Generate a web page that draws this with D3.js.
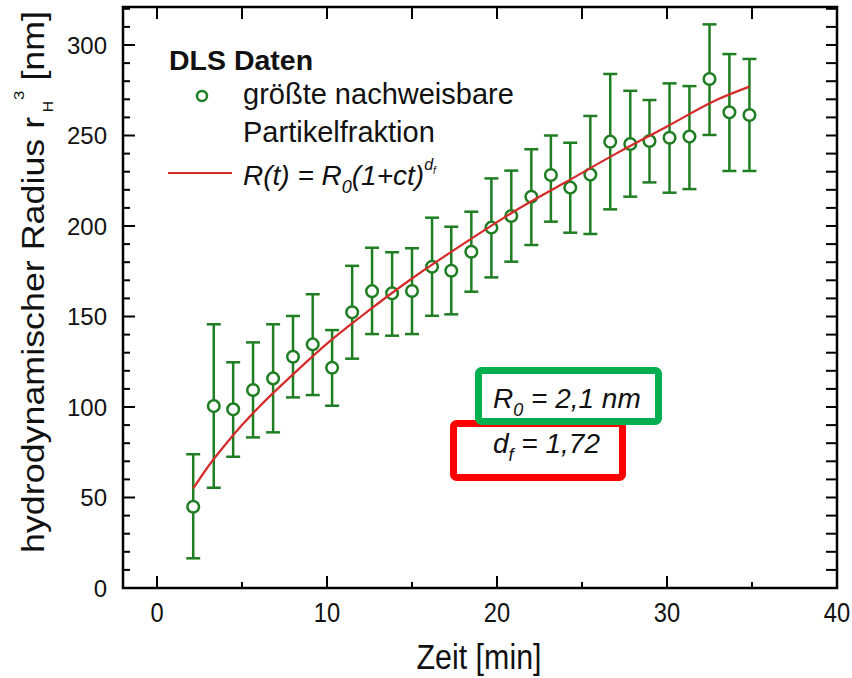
<!DOCTYPE html>
<html>
<head>
<meta charset="utf-8">
<script src="https://cdn.jsdelivr.net/npm/d3@7"></script>
<style>
  html, body { margin: 0; padding: 0; background: #fff; }
  svg { display: block; font-family: "Liberation Sans", Arial, sans-serif; }
</style>
</head>
<body>
<svg id="chart" width="852" height="678"></svg>
<script>
// ---- data ----
const timeMin = [2.13, 3.34, 4.48, 5.65, 6.83, 8.0, 9.16, 10.3, 11.48, 12.65, 13.83, 15.0, 16.18, 17.31, 18.49, 19.67, 20.84, 22.02, 23.17, 24.31, 25.49, 26.66, 27.84, 28.97, 30.15, 31.32, 32.5, 33.67, 34.85];
const radius  = [44.9, 100.5, 98.7, 109.4, 115.8, 127.8, 134.6, 121.7, 152.3, 164.0, 162.8, 164.1, 177.5, 175.3, 185.8, 199.1, 205.5, 216.2, 228.2, 221.2, 228.4, 246.6, 245.3, 247.0, 248.8, 249.4, 281.2, 262.8, 261.3];
const errLow  = [16.4, 55.4, 72.5, 83.2, 86.0, 105.3, 106.6, 100.7, 126.7, 140.3, 139.4, 140.3, 150.4, 151.2, 163.7, 171.6, 180.3, 189.5, 202.4, 196.3, 195.6, 209.2, 216.2, 224.1, 218.4, 220.4, 250.3, 230.4, 230.4];
const errHigh = [73.9, 145.7, 124.7, 135.7, 145.7, 150.3, 162.3, 142.5, 178.0, 188.0, 185.5, 187.7, 204.6, 199.6, 207.9, 226.3, 230.6, 242.4, 250.0, 246.0, 260.8, 284.0, 274.7, 269.6, 278.8, 277.3, 311.4, 295.0, 292.3];
// fit curve R(t)
const fitTime   = [2.13, 3, 4, 5, 6, 8, 10, 12, 15, 18, 21, 24, 27, 30, 33, 34.85];
const fitRadius = [55, 67, 79, 90, 100, 118, 135, 150, 171, 190, 208, 224, 240, 255, 270, 277];
const xTicks = [0, 10, 20, 30, 40];
const yTicks = [0, 50, 100, 150, 200, 250, 300];

const svg = d3.select("#chart");
const L = 123, R = 837, T = 7, B = 588;
const x = d3.scaleLinear().domain([-2, 40]).range([L, R]);
const y = d3.scaleLinear().domain([0, 321]).range([B, T]);

const green = "#1f7d22", red = "#d42a2a";

// frame
svg.append("rect").attr("x", L).attr("y", T).attr("width", R - L).attr("height", B - T)
  .attr("fill", "none").attr("stroke", "#000").attr("stroke-width", 2.5);

// ticks (inward, all four sides)
const xMinor = d3.range(0, 41, 5).filter(v => v % 10 !== 0);
const yMinor = d3.range(10, 321, 10).filter(v => v % 50 !== 0);
const tk = svg.append("g").attr("stroke", "#000").attr("stroke-width", 2);
xTicks.forEach(v => {
  tk.append("line").attr("x1", x(v)).attr("x2", x(v)).attr("y1", B).attr("y2", B - 12);
  tk.append("line").attr("x1", x(v)).attr("x2", x(v)).attr("y1", T).attr("y2", T + 12);
});
xMinor.forEach(v => {
  tk.append("line").attr("x1", x(v)).attr("x2", x(v)).attr("y1", B).attr("y2", B - 6);
  tk.append("line").attr("x1", x(v)).attr("x2", x(v)).attr("y1", T).attr("y2", T + 12);
});
yTicks.forEach(v => {
  tk.append("line").attr("x1", L).attr("x2", L + 12).attr("y1", y(v)).attr("y2", y(v));
  tk.append("line").attr("x1", R).attr("x2", R - 11).attr("y1", y(v)).attr("y2", y(v));
});
yMinor.forEach(v => {
  tk.append("line").attr("x1", L).attr("x2", L + 7).attr("y1", y(v)).attr("y2", y(v));
  tk.append("line").attr("x1", R).attr("x2", R - 11).attr("y1", y(v)).attr("y2", y(v));
});

// tick labels
svg.append("g").selectAll("text").data(xTicks).join("text")
  .attr("x", d => x(d)).attr("y", 622).attr("text-anchor", "middle")
  .attr("font-size", 25).attr("fill", "#111")
  .attr("transform", d => `translate(${x(d)},622) scale(0.95,1.08) translate(${-x(d)},-622)`)
  .text(d => d);
svg.append("g").selectAll("text").data(yTicks).join("text")
  .attr("x", 107).attr("y", d => y(d) + 8.5).attr("text-anchor", "end")
  .attr("font-size", 24).attr("fill", "#111").text(d => d);

// axis titles
svg.append("text").attr("x", 479).attr("y", 669).attr("text-anchor", "middle")
  .attr("font-size", 32).attr("fill", "#111")
  .attr("transform", "translate(479,669) scale(0.95,1.08) translate(-479,-669)")
  .text("Zeit [min]");

const yt = svg.append("g").attr("transform", "translate(44,553) rotate(-90) scale(1.12,1)")
  .append("text").attr("font-size", 32).attr("fill", "#111");
yt.append("tspan").text("hydrodynamischer Radius r");
yt.append("tspan").attr("font-size", 14).attr("dy", 9).attr("dx", 4).text("H");
yt.append("tspan").attr("font-size", 15).attr("dy", -29).attr("dx", 1).text("3");
yt.append("tspan").attr("dy", 20).text(" [nm]");

// error bars
const idx = d3.range(timeMin.length);
const eb = svg.append("g").attr("stroke", green).attr("stroke-width", 2.5);
idx.forEach(i => {
  const cx = x(timeMin[i]);
  eb.append("line").attr("x1", cx).attr("x2", cx).attr("y1", y(errLow[i])).attr("y2", y(errHigh[i]));
  eb.append("line").attr("x1", cx - 7).attr("x2", cx + 7).attr("y1", y(errLow[i])).attr("y2", y(errLow[i]));
  eb.append("line").attr("x1", cx - 7).attr("x2", cx + 7).attr("y1", y(errHigh[i])).attr("y2", y(errHigh[i]));
});

// points
svg.append("g").selectAll("circle").data(idx).join("circle")
  .attr("cx", i => x(timeMin[i])).attr("cy", i => y(radius[i])).attr("r", 5.8)
  .attr("fill", "#fff").attr("stroke", green).attr("stroke-width", 2.5);

// fit curve
const line = d3.line().x(i => x(fitTime[i])).y(i => y(fitRadius[i])).curve(d3.curveMonotoneX);
svg.append("path").attr("d", line(d3.range(fitTime.length)))
  .attr("fill", "none").attr("stroke", red).attr("stroke-width", 2.2);

// legend
svg.append("text").attr("x", 169).attr("y", 70).attr("font-size", 28.5).attr("font-weight", "bold")
  .attr("fill", "#111").text("DLS Daten");
svg.append("circle").attr("cx", 202).attr("cy", 96).attr("r", 5)
  .attr("fill", "#fff").attr("stroke", green).attr("stroke-width", 2.5);
svg.append("text").attr("x", 243).attr("y", 104).attr("font-size", 29).attr("fill", "#111")
  .text("größte nachweisbare");
svg.append("text").attr("x", 243).attr("y", 142).attr("font-size", 29).attr("fill", "#111")
  .text("Partikelfraktion");
svg.append("line").attr("x1", 168).attr("x2", 232).attr("y1", 173).attr("y2", 173)
  .attr("stroke", red).attr("stroke-width", 2);
const lf = svg.append("text").attr("x", 243).attr("y", 185).attr("font-size", 28)
  .attr("font-style", "italic").attr("fill", "#111");
lf.append("tspan").text("R(t) = R");
lf.append("tspan").attr("font-size", 18).attr("dy", 8).text("0");
lf.append("tspan").attr("dy", -8).text("(1+ct)");
lf.append("tspan").attr("font-size", 16).attr("dy", -15).text("d");
lf.append("tspan").attr("font-size", 10).attr("dy", 4).text("f");

// annotation boxes
svg.append("rect").attr("x", 453.5).attr("y", 423.5).attr("width", 169).attr("height", 54).attr("rx", 3)
  .attr("fill", "#fff").attr("stroke", "#ff0000").attr("stroke-width", 7);
svg.append("rect").attr("x", 478.5).attr("y", 370.5).attr("width", 180).attr("height", 51).attr("rx", 3)
  .attr("fill", "#fff").attr("stroke", "#00b050").attr("stroke-width", 7);
const a1 = svg.append("text").attr("x", 493).attr("y", 408).attr("font-size", 28)
  .attr("font-style", "italic").attr("fill", "#111");
a1.append("tspan").text("R");
a1.append("tspan").attr("font-size", 18).attr("dy", 8).text("0");
a1.append("tspan").attr("dy", -8).text(" = 2,1 nm");
const a2 = svg.append("text").attr("x", 493).attr("y", 453).attr("font-size", 28)
  .attr("font-style", "italic").attr("fill", "#111");
a2.append("tspan").text("d");
a2.append("tspan").attr("font-size", 18).attr("dy", 8).text("f");
a2.append("tspan").attr("dy", -8).text(" = 1,72");
</script>
</body>
</html>
